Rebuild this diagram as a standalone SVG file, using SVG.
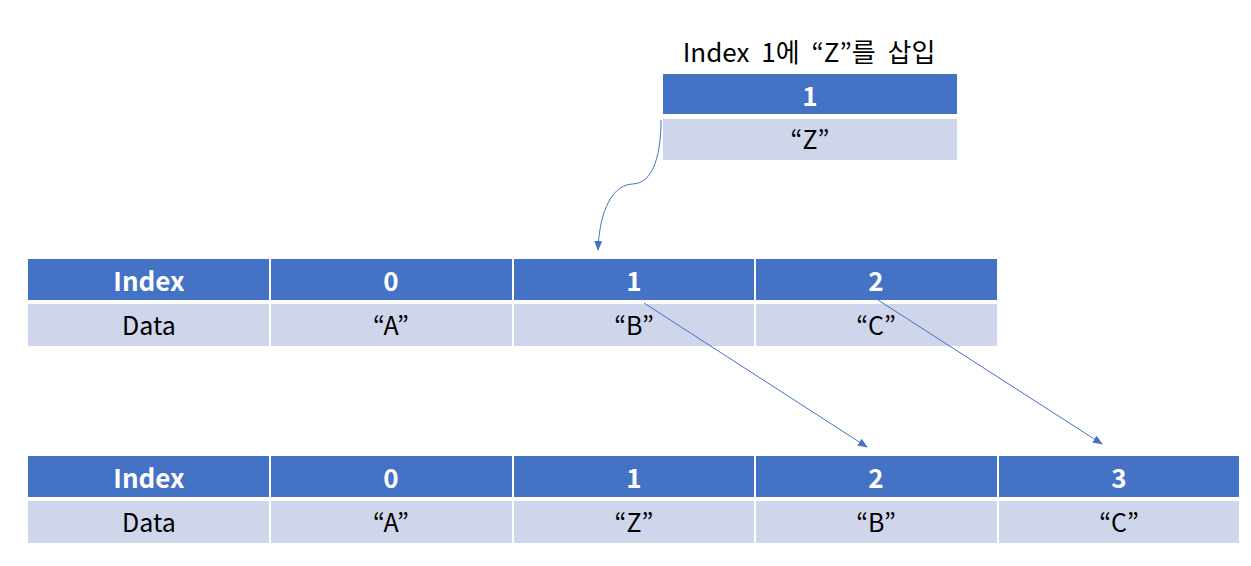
<svg xmlns="http://www.w3.org/2000/svg" width="1251" height="566" viewBox="0 0 1251 566">
<style>
.h{fill:#4472C4}
.d{fill:#CFD5EA}
.ht{font-family:"Noto Sans CJK KR","Noto Sans",sans-serif;font-size:26px;font-weight:bold;fill:#fff;text-anchor:middle;dominant-baseline:central}
.dt{font-family:"Noto Sans CJK KR","Noto Sans",sans-serif;font-size:25px;fill:#000;text-anchor:middle;dominant-baseline:central}
.c{fill:none;stroke:#4472C4;stroke-width:1}
</style>
<defs>
<marker id="a" markerWidth="10" markerHeight="8" refX="9" refY="4" orient="auto" markerUnits="userSpaceOnUse">
<path d="M0,0 L10,4 L0,8 Z" fill="#4472C4"/>
</marker>
</defs>
<rect width="1251" height="566" fill="#fff"/>
<g id="insert">
<text x="809" y="50" class="dt" style="font-size:26px;word-spacing:6px">Index 1에 “Z”를 삽입</text>
<rect class="h" x="663" y="74" width="294" height="40"/>
<text class="ht" x="810" y="94">1</text>
<rect class="d" x="663" y="119" width="294" height="41"/>
<text class="dt" x="810" y="138">“Z”</text>
</g>
<g id="table1">
<rect class="h" x="28" y="259" width="241" height="41"/>
<rect class="h" x="271" y="259" width="241" height="41"/>
<rect class="h" x="514" y="259" width="240" height="41"/>
<rect class="h" x="756" y="259" width="241" height="41"/>
<rect class="d" x="28" y="304" width="241" height="42"/>
<rect class="d" x="271" y="304" width="241" height="42"/>
<rect class="d" x="514" y="304" width="240" height="42"/>
<rect class="d" x="756" y="304" width="241" height="42"/>
<text class="ht" x="149" y="279">Index</text>
<text class="ht" x="391" y="279">0</text>
<text class="ht" x="634" y="279">1</text>
<text class="ht" x="876" y="279">2</text>
<text class="dt" x="149" y="324">Data</text>
<text class="dt" x="391" y="324">“A”</text>
<text class="dt" x="634" y="324">“B”</text>
<text class="dt" x="876" y="324">“C”</text>
</g>
<g id="table2">
<rect class="h" x="28" y="456" width="241" height="41"/>
<rect class="h" x="271" y="456" width="241" height="41"/>
<rect class="h" x="514" y="456" width="240" height="41"/>
<rect class="h" x="756" y="456" width="241" height="41"/>
<rect class="h" x="999" y="456" width="240" height="41"/>
<rect class="d" x="28" y="501" width="241" height="42"/>
<rect class="d" x="271" y="501" width="241" height="42"/>
<rect class="d" x="514" y="501" width="240" height="42"/>
<rect class="d" x="756" y="501" width="241" height="42"/>
<rect class="d" x="999" y="501" width="240" height="42"/>
<text class="ht" x="149" y="476">Index</text>
<text class="ht" x="391" y="476">0</text>
<text class="ht" x="634" y="476">1</text>
<text class="ht" x="876" y="476">2</text>
<text class="ht" x="1119" y="476">3</text>
<text class="dt" x="149" y="521">Data</text>
<text class="dt" x="391" y="521">“A”</text>
<text class="dt" x="634" y="521">“Z”</text>
<text class="dt" x="876" y="521">“B”</text>
<text class="dt" x="1119" y="521">“C”</text>
</g>
<g id="connectors">
<path class="c" d="M661,120 C661,150 655,184 632,184 C608,186 599,220 598,250" marker-end="url(#a)"/>
<path class="c" d="M644,303 L867,447" marker-end="url(#a)"/>
<path class="c" d="M878,300 L1102,444" marker-end="url(#a)"/>
</g>
</svg>
